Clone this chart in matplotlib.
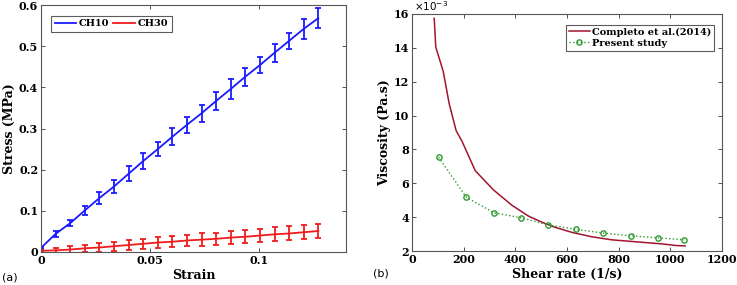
import matplotlib
matplotlib.use("Agg")
import matplotlib.pyplot as plt
from matplotlib.ticker import FuncFormatter
from matplotlib.lines import Line2D
import numpy as np

# ---- Panel (a) data ----
strain = [0.0, 0.0067, 0.0134, 0.0201, 0.0268, 0.0335, 0.0402, 0.0469, 0.0536, 0.0603,
          0.0670, 0.0737, 0.0804, 0.0871, 0.0938, 0.1005, 0.1072, 0.1139, 0.1206, 0.1273]
ch10 = [0.010, 0.044, 0.070, 0.101, 0.131, 0.159, 0.190, 0.221, 0.250, 0.280,
        0.309, 0.337, 0.367, 0.396, 0.426, 0.454, 0.484, 0.513, 0.542, 0.568]
ch10_err = [0.003, 0.007, 0.008, 0.011, 0.015, 0.016, 0.018, 0.019, 0.018, 0.021,
            0.019, 0.020, 0.021, 0.025, 0.022, 0.020, 0.022, 0.019, 0.024, 0.025]
ch30 = [0.003, 0.004, 0.006, 0.009, 0.011, 0.014, 0.017, 0.020, 0.023, 0.025,
        0.028, 0.030, 0.032, 0.035, 0.037, 0.040, 0.043, 0.045, 0.048, 0.051]
ch30_err = [0.002, 0.006, 0.008, 0.009, 0.010, 0.011, 0.012, 0.012, 0.013, 0.013,
            0.014, 0.015, 0.015, 0.016, 0.016, 0.016, 0.017, 0.017, 0.017, 0.018]

# ---- Panel (b) data ----
completo_rate = [86, 92, 121, 144, 171, 193, 245, 316, 387, 451, 503, 554,
                 619, 696, 773, 838, 902, 967, 1025, 1057]
completo_visc = [15.75e-3, 14.05e-3, 12.6e-3, 10.7e-3, 9.1e-3, 8.5e-3, 6.74e-3, 5.6e-3,
                 4.7e-3, 4.06e-3, 3.7e-3, 3.4e-3, 3.1e-3, 2.84e-3, 2.66e-3, 2.58e-3,
                 2.5e-3, 2.42e-3, 2.32e-3, 2.3e-3]
present_rate = [103, 210, 317, 423, 528, 634, 740, 846, 951, 1054]
present_visc = [7.54e-3, 5.18e-3, 4.26e-3, 3.96e-3, 3.54e-3, 3.28e-3, 3.06e-3,
                2.9e-3, 2.78e-3, 2.66e-3]

plt.rcParams['font.family'] = ['DejaVu Serif']
plt.rcParams['font.weight'] = 'bold'
plt.rcParams['mathtext.default'] = 'regular'
tick_fs = 8
lab_fs = 9
leg_fs = 7

fig = plt.figure(figsize=(7.37, 2.85), dpi=100)
W, H = 737, 285
ax1 = fig.add_axes([41 / W, (H - 252) / H, (346 - 41) / W, (252 - 5) / H])
ax2 = fig.add_axes([412 / W, (H - 251) / H, (722 - 412) / W, (251 - 14) / H])

blue = '#1a1aff'
red = '#f01c1c'
ax1.errorbar(strain, ch10, yerr=ch10_err, color=blue, lw=1.3, elinewidth=1.3,
             capsize=2.5, capthick=1.3, label='CH10')
ax1.errorbar(strain, ch30, yerr=ch30_err, color=red, lw=1.3, elinewidth=1.3,
             capsize=2.5, capthick=1.3, label='CH30')
ax1.set_xlim(0, 0.14)
ax1.set_ylim(0, 0.6)
ax1.set_xticks([0, 0.05, 0.1])
ax1.set_xticklabels(['0', '0.05', '0.1'])
ax1.set_yticks([0, 0.1, 0.2, 0.3, 0.4, 0.5, 0.6])
ax1.set_yticklabels(['0', '0.1', '0.2', '0.3', '0.4', '0.5', '0.6'])
ax1.set_xlabel('Strain', fontsize=lab_fs, fontweight='bold', labelpad=2)
ax1.set_ylabel('Stress (MPa)', fontsize=lab_fs, fontweight='bold', labelpad=2)
hl = [Line2D([], [], color=blue, lw=1.3), Line2D([], [], color=red, lw=1.3)]
leg1 = ax1.legend(hl, ['CH10', 'CH30'], loc='upper left', ncol=2, fontsize=leg_fs,
                  frameon=True, fancybox=False, edgecolor='#333333', handlelength=2.2,
                  columnspacing=0.4, handletextpad=0.3, borderpad=0.35,
                  bbox_to_anchor=(0.018, 0.975))
leg1.get_frame().set_linewidth(0.8)

ax2.plot(completo_rate, completo_visc, color='#a2142f', lw=1.1, label='Completo et al.(2014)')
ax2.plot(present_rate, present_visc, color='#2f9a2f', lw=1.0, ls=':', marker='o',
         ms=3.8, mfc='none', mew=1.0, label='Present study')
ax2.set_xlim(0, 1200)
ax2.set_ylim(2e-3, 16e-3)
ax2.set_xticks([0, 200, 400, 600, 800, 1000, 1200])
ax2.set_yticks(np.arange(2e-3, 16.1e-3, 2e-3))
ax2.yaxis.set_major_formatter(FuncFormatter(lambda v, p: '%d' % round(v * 1e3)))
ax2.text(0.005, 1.005, r'$\times10^{-3}$', transform=ax2.transAxes, fontsize=7.5,
         fontweight='normal', family='DejaVu Sans', va='bottom', ha='left')
ax2.set_xlabel('Shear rate (1/s)', fontsize=lab_fs, fontweight='bold', labelpad=2)
ax2.set_ylabel('Viscosity (Pa.s)', fontsize=lab_fs, fontweight='bold', labelpad=2)
leg2 = ax2.legend(loc='upper right', fontsize=leg_fs, frameon=True, fancybox=False,
                  edgecolor='#333333', handlelength=2.2, handletextpad=0.2,
                  borderpad=0.3, labelspacing=0.2, bbox_to_anchor=(0.99, 0.975))
leg2.get_frame().set_linewidth(0.8)

for ax in (ax1, ax2):
    ax.tick_params(direction='in', top=True, right=True, labelsize=tick_fs,
                   length=3, width=0.6, color='#333333', pad=2)
    for lab in ax.get_xticklabels() + ax.get_yticklabels():
        lab.set_fontweight('bold')
    for s in ax.spines.values():
        s.set_color('#555555')
        s.set_linewidth(0.8)

fig.text(2 / W, 1 - 277 / H, '(a)', fontsize=8, family='DejaVu Sans',
         fontweight='normal', va='center', ha='left')
fig.text(373 / W, 1 - 273 / H, '(b)', fontsize=8, family='DejaVu Sans',
         fontweight='normal', va='center', ha='left')

fig.savefig('out.png', dpi=100)
